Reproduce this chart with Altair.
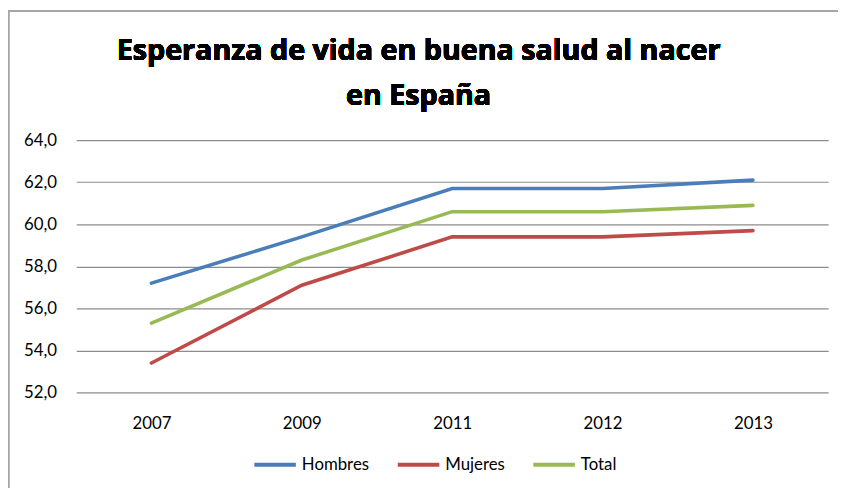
import altair as alt
import pandas as pd

years = ["2007", "2009", "2011", "2012", "2013"]
hombres = [57.2, 59.4, 61.7, 61.7, 62.1]
mujeres = [53.4, 57.1, 59.4, 59.4, 59.7]
total = [55.3, 58.3, 60.6, 60.6, 60.9]
series = ["Hombres", "Mujeres", "Total"]
colors = ["#4A7EBB", "#BE4B48", "#98B954"]
title_lines = "Esperanza de vida en buena salud al nacer\nen España"

rows = []
for name, vals in zip(series, [hombres, mujeres, total]):
    for y, v in zip(years, vals):
        rows.append({"Año": y, "Serie": name, "Valor": v})
df = pd.DataFrame(rows)

W, H = 760, 255
FONT = "Lato"

lines = alt.Chart(df).mark_line(strokeWidth=3.6, strokeCap="round").encode(
    x=alt.X("Año:O", sort=years, scale=alt.Scale(type="point", padding=0.5),
            axis=alt.Axis(title=None, labelAngle=0, ticks=False, domain=False,
                          labelPadding=23, labelFontSize=17, labelFont=FONT,
                          labelColor="#000000", grid=False)),
    y=alt.Y("Valor:Q", scale=alt.Scale(domain=[52, 64], nice=False, zero=False),
            axis=alt.Axis(title=None, values=[52, 54, 56, 58, 60, 62, 64],
                          labelExpr="replace(format(datum.value, '.1f'), '.', ',')",
                          ticks=False, domain=False, labelPadding=20,
                          labelFontSize=17, labelFont=FONT, labelColor="#000000",
                          grid=True, gridColor="#8C8C8C", gridWidth=1.2)),
    color=alt.Color("Serie:N", scale=alt.Scale(domain=series, range=colors),
                    legend=alt.Legend(title=None, orient="none", direction="horizontal",
                                      legendX=178, legendY=305,
                                      symbolType="stroke", symbolSize=1764,
                                      symbolStrokeWidth=4, labelFontSize=17,
                                      labelFont=FONT, labelColor="#000000",
                                      labelOffset=4, columnPadding=20)),
)

title = alt.Chart(df).mark_text(
    text=title_lines, lineBreak="\n", font="Open Sans", fontSize=29, fontWeight="bold",
    color="#000000", align="center", baseline="alphabetic", lineHeight=45,
).encode(x=alt.value(346), y=alt.value(-81))

border_left = alt.Chart(df).mark_rule(color="#A6A6A6", strokeWidth=1.2).encode(
    x=alt.value(-68.5), y=alt.value(-131.5), y2=alt.value(H + 200)
)
border_top = alt.Chart(df).mark_rule(color="#A6A6A6", strokeWidth=1.2).encode(
    x=alt.value(-68.5), x2=alt.value(W + 200), y=alt.value(-130.5)
)

chart = alt.layer(lines, title, border_left, border_top).properties(
    width=W, height=H,
    autosize=alt.AutoSizeParams(type="none"),
    padding={"left": 69, "top": 131, "right": 10, "bottom": 100},
).configure_view(stroke=None)

chart.save("out.html", embed_options={"renderer": "svg", "actions": False})
